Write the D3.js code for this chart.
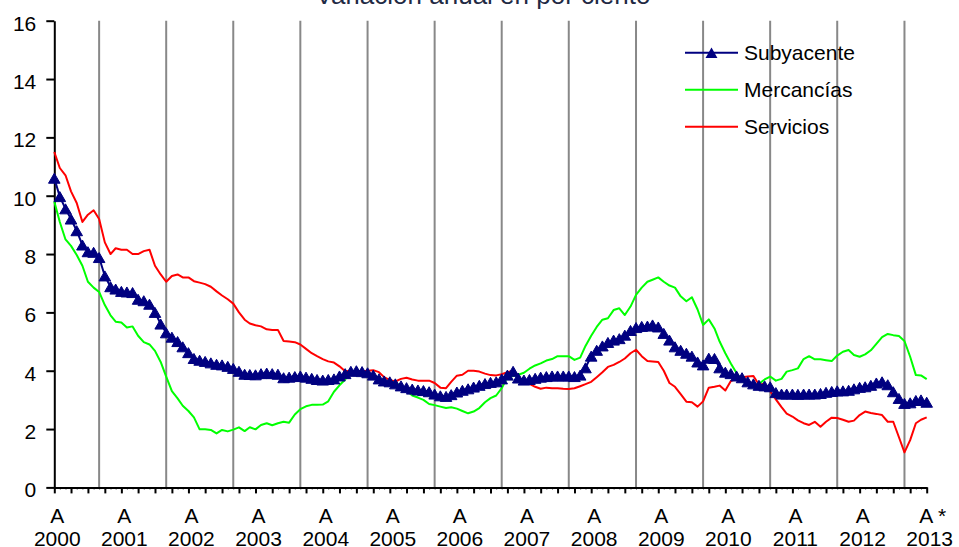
<!DOCTYPE html>
<html>
<head>
<meta charset="utf-8">
<script src="https://cdn.jsdelivr.net/npm/d3@7"></script>
<style>
  body { margin: 0; background: #fff; }
  svg { display: block; font-family: "Liberation Sans", Arial, sans-serif; }
</style>
</head>
<body>
<div id="chart"></div>
<script>
// monthly series, April 2000 - April 2013 (annual % change)
const startMonth = new Date(2000, 3, 1);
const endMonth = new Date(2013, 3, 1);

const subyacente = [
  10.6, 9.97, 9.55, 9.2, 8.8, 8.31, 8.08, 8.06, 7.88, 7.25,
  6.88, 6.8, 6.72, 6.7, 6.68, 6.45, 6.4, 6.28, 6.0, 5.6,
  5.3, 5.15, 5.0, 4.82, 4.62, 4.42, 4.36, 4.32, 4.27, 4.22,
  4.2, 4.15, 4.08, 3.98, 3.88, 3.87, 3.86, 3.9, 3.92, 3.9,
  3.88, 3.76, 3.78, 3.8, 3.82, 3.78, 3.74, 3.7, 3.68, 3.7,
  3.72, 3.82, 3.9, 3.98, 4.0, 3.97, 3.93, 3.85, 3.72, 3.65,
  3.62, 3.55, 3.48, 3.42, 3.37, 3.34, 3.32, 3.28, 3.2, 3.14,
  3.12, 3.18, 3.27, 3.33, 3.38, 3.44, 3.5, 3.56, 3.6, 3.62,
  3.72, 3.85, 3.98, 3.75, 3.68, 3.7, 3.74, 3.78, 3.8, 3.82,
  3.82, 3.82, 3.82, 3.8, 3.85, 4.1, 4.5, 4.7, 4.85, 4.97,
  5.05, 5.1, 5.22, 5.38, 5.48, 5.52, 5.53, 5.57, 5.5, 5.28,
  5.05, 4.82, 4.7, 4.6, 4.5, 4.3, 4.2, 4.43, 4.42, 4.1,
  3.95, 3.9, 3.82, 3.76, 3.62, 3.55, 3.5, 3.48, 3.45, 3.25,
  3.2, 3.2, 3.2, 3.19, 3.2, 3.2, 3.2, 3.22, 3.26, 3.29,
  3.31, 3.31, 3.33, 3.38, 3.43, 3.45, 3.5, 3.58, 3.62, 3.52,
  3.28, 3.05, 2.88, 2.9, 2.98, 3.0, 2.92
];

const mercancias = [
  9.8, 9.1, 8.5, 8.28, 7.97, 7.6, 7.05, 6.85, 6.7, 6.25,
  5.9, 5.68, 5.65, 5.48, 5.52, 5.2, 4.98, 4.9, 4.68, 4.3,
  3.8, 3.3, 3.05, 2.8, 2.62, 2.4, 1.99, 1.99, 1.97, 1.85,
  1.97, 1.92, 1.98, 2.06, 1.93, 2.06, 1.99, 2.14, 2.2, 2.13,
  2.2, 2.25, 2.22, 2.5, 2.68, 2.78, 2.83, 2.83, 2.84, 2.95,
  3.28, 3.5, 3.7, 3.95, 4.02, 3.89, 3.89, 3.75, 3.7, 3.64,
  3.61, 3.59, 3.48, 3.32, 3.15, 3.08, 3.0, 2.86, 2.82, 2.77,
  2.72, 2.75, 2.7, 2.62, 2.54, 2.6, 2.72, 2.92, 3.06, 3.15,
  3.4, 3.78, 3.82, 3.86, 3.93, 4.07, 4.18, 4.25, 4.35, 4.4,
  4.5, 4.5, 4.5, 4.37, 4.45, 4.85, 5.2, 5.5, 5.75, 5.8,
  6.08, 6.14, 5.91, 6.2, 6.6, 6.85, 7.05, 7.12, 7.2, 7.05,
  6.92, 6.85, 6.55, 6.38, 6.52, 6.1, 5.57, 5.76, 5.45, 5.0,
  4.6, 4.25, 3.92, 3.66, 3.52, 3.43, 3.55, 3.7, 3.8, 3.66,
  3.72, 3.97, 4.02, 4.08, 4.4, 4.5, 4.39, 4.39, 4.36, 4.33,
  4.52, 4.65, 4.71, 4.54, 4.48, 4.56, 4.7, 4.92, 5.15, 5.26,
  5.22, 5.19, 5.02, 4.48, 3.85, 3.84, 3.71
];

const servicios = [
  11.5, 10.95, 10.7, 10.15, 9.75, 9.1, 9.35, 9.5, 9.2, 8.4,
  8.0, 8.2, 8.15, 8.15, 8.0, 8.0, 8.1, 8.15, 7.6, 7.3,
  7.05, 7.25, 7.3, 7.2, 7.2, 7.07, 7.02, 6.97, 6.88, 6.72,
  6.58, 6.45, 6.3, 6.0, 5.75, 5.62, 5.56, 5.52, 5.42, 5.4,
  5.4, 5.02, 5.0, 4.98, 4.9, 4.75, 4.6, 4.5, 4.4, 4.32,
  4.28, 4.15, 3.98, 4.0, 3.97, 3.98, 4.0, 4.02, 3.95, 3.78,
  3.68, 3.63, 3.72, 3.76, 3.7, 3.66, 3.66, 3.66, 3.58, 3.42,
  3.4, 3.62, 3.83, 3.86, 4.0, 4.0, 3.97, 3.9, 3.85, 3.84,
  3.88, 3.95, 4.0, 3.82, 3.57, 3.55, 3.45, 3.38, 3.42, 3.4,
  3.4, 3.38, 3.37, 3.4, 3.47, 3.54, 3.62, 3.78, 3.95, 4.13,
  4.2, 4.3, 4.42, 4.6, 4.72, 4.5, 4.33, 4.32, 4.3, 4.0,
  3.58, 3.45, 3.2, 2.94, 2.92, 2.77, 2.95, 3.42, 3.45, 3.49,
  3.32, 3.65, 3.72, 3.78, 3.8, 3.82, 3.52, 3.56, 3.3, 3.02,
  2.75, 2.53, 2.43, 2.3, 2.2, 2.14, 2.25, 2.08, 2.25, 2.39,
  2.38, 2.32, 2.25, 2.29, 2.48, 2.6, 2.55, 2.52, 2.48, 2.25,
  2.25, 1.72, 1.2, 1.62, 2.2, 2.32, 2.4
];

const yTicks = [0, 2, 4, 6, 8, 10, 12, 14, 16];
const labelYears = d3.range(2000, 2014);          // "A" (abril) labels
const lastLabelNote = " *";
const gridYears = d3.range(2000, 2013);           // vertical lines at December

const seriesNames = ["Subyacente", "Mercancías", "Servicios"];
const seriesColors = ["#000080", "#00ff00", "#ff0000"];

const width = 959;
const height = 547;

const svg = d3.select("#chart").append("svg")
  .attr("width", width)
  .attr("height", height);

const months = d3.timeMonth.range(startMonth, d3.timeMonth.offset(endMonth, 1));

const x = d3.scaleTime()
  .domain([startMonth, endMonth])
  .range([54.3, 926.7]);

const y = d3.scaleLinear()
  .domain([0, 16])
  .range([487.4, 20.7]);

// triangle centred on its bounding box (like spreadsheet markers)
const triBox = {
  draw(ctx, size) {
    const s = Math.sqrt(size * 4 / Math.sqrt(3));
    const h = s * Math.sqrt(3) / 2;
    ctx.moveTo(0, -h / 2);
    ctx.lineTo(s / 2, h / 2);
    ctx.lineTo(-s / 2, h / 2);
    ctx.closePath();
  }
};

// title (partly cut at the top, as in the source)
svg.append("text")
  .attr("x", 483)
  .attr("y", 4)
  .attr("text-anchor", "middle")
  .attr("font-size", 26)
  .attr("fill", "#1f2a44")
  .text("Variación anual en por ciento");

// vertical grey lines at year end
svg.append("g")
  .selectAll("line")
  .data(gridYears)
  .join("line")
    .attr("x1", d => x(new Date(d, 11, 1)))
    .attr("x2", d => x(new Date(d, 11, 1)))
    .attr("y1", y(16))
    .attr("y2", y(0))
    .attr("stroke", "#888")
    .attr("stroke-width", 2);

// y axis
const yAxis = svg.append("g")
  .attr("transform", `translate(${x(startMonth)},0)`)
  .call(d3.axisLeft(y).tickValues(yTicks).tickSize(8).tickSizeOuter(0).tickPadding(10));
yAxis.selectAll("text")
  .attr("font-size", 21)
  .attr("fill", "#000")
  .attr("dy", "0.45em");
yAxis.selectAll("line, path").attr("stroke", "#000").attr("stroke-width", 2);

// x axis: monthly minor ticks, quarterly major ticks
const xMinor = svg.append("g")
  .attr("transform", `translate(0,${y(0)})`)
  .call(d3.axisBottom(x).tickValues(months).tickSize(2).tickSizeOuter(0).tickFormat(""));
xMinor.selectAll("line").attr("stroke", "#000").attr("stroke-width", 1);
xMinor.select("path").attr("stroke", "#000").attr("stroke-width", 2);

const xMajor = svg.append("g")
  .attr("transform", `translate(0,${y(0)})`)
  .call(d3.axisBottom(x).tickValues(months.filter((d, i) => i % 3 === 0)).tickSize(6).tickSizeOuter(0).tickFormat(""));
xMajor.selectAll("line").attr("stroke", "#000").attr("stroke-width", 2);
xMajor.select("path").remove();

const xLabels = svg.append("g")
  .attr("font-size", 21)
  .attr("fill", "#000")
  .attr("text-anchor", "middle");

xLabels.selectAll("text.m")
  .data(labelYears)
  .join("text")
    .attr("class", "m")
    .attr("x", (d, i) => x(new Date(d, 3, 1)) + 3 + (i === labelYears.length - 1 ? 3 : 0))
    .attr("y", 522.5)
    .text((d, i) => i === labelYears.length - 1 ? "A" + lastLabelNote : "A");

xLabels.selectAll("text.yr")
  .data(labelYears)
  .join("text")
    .attr("class", "yr")
    .attr("x", d => x(new Date(d, 3, 1)) + 3)
    .attr("y", 545.5)
    .text(d => d);

// lines
const allSeries = [subyacente, mercancias, servicios];
const line = d3.line()
  .x((d, i) => x(months[i]))
  .y(d => y(d));

// draw order: servicios, mercancias, subyacente on top
[2, 1, 0].forEach(k => {
  svg.append("path")
    .datum(allSeries[k])
    .attr("fill", "none")
    .attr("stroke", seriesColors[k])
    .attr("stroke-width", 2)
    .attr("stroke-linejoin", "round")
    .attr("d", line);
});

const triangle = d3.symbol().type(triBox).size(58);

svg.append("g")
  .selectAll("path")
  .data(subyacente)
  .join("path")
    .attr("transform", (d, i) => `translate(${x(months[i])},${y(d)})`)
    .attr("d", triangle)
    .attr("fill", seriesColors[0])
    .attr("stroke", seriesColors[0])
    .attr("stroke-width", 1);

// legend
const legend = svg.append("g")
  .selectAll("g")
  .data(seriesNames)
  .join("g")
    .attr("transform", (d, i) => `translate(685,${52.7 + i * 37})`);

legend.append("line")
  .attr("x1", 0)
  .attr("x2", 53)
  .attr("stroke", (d, i) => seriesColors[i])
  .attr("stroke-width", 2);

legend.filter((d, i) => i === 0)
  .append("path")
    .attr("transform", "translate(26.5,0)")
    .attr("d", d3.symbol().type(triBox).size(62))
    .attr("fill", seriesColors[0]);

legend.append("text")
  .attr("x", 59)
  .attr("y", 7.5)
  .attr("font-size", 21)
  .attr("fill", "#000")
  .text(d => d);
</script>
</body>
</html>
